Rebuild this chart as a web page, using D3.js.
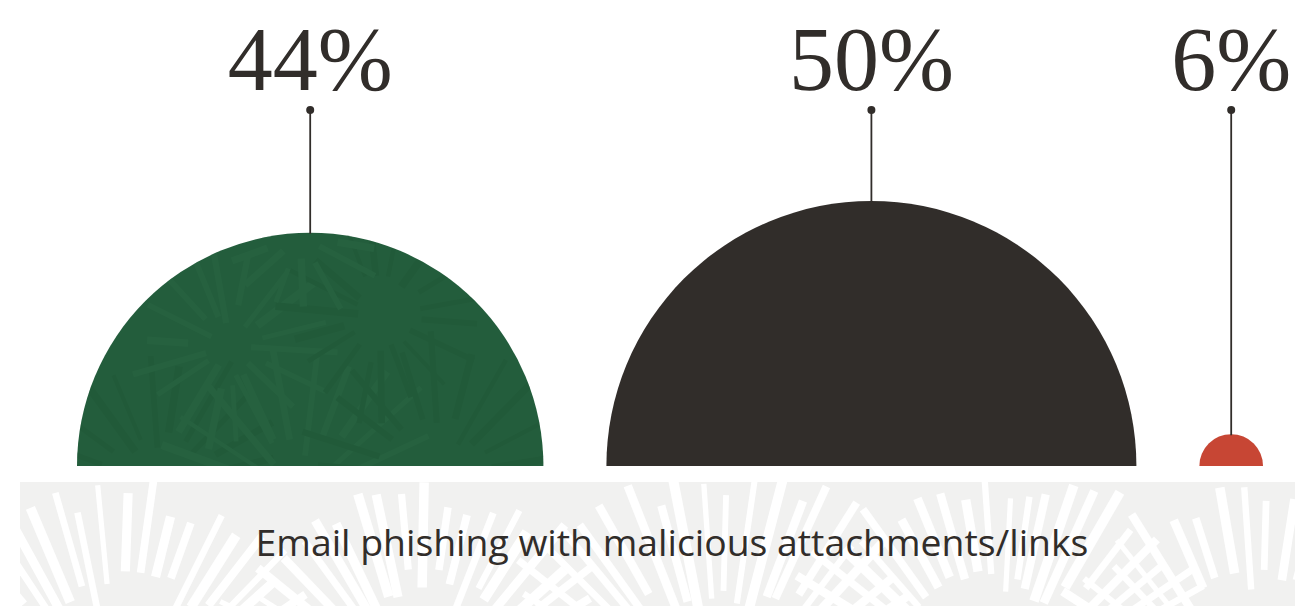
<!DOCTYPE html>
<html>
<head>
<meta charset="utf-8">
<script src="https://cdn.jsdelivr.net/npm/d3@7"></script>
<style>
  html, body { margin: 0; padding: 0; background: #ffffff; }
  svg { display: block; }
</style>
</head>
<body>
<svg id="chart" width="1295" height="606"></svg>
<script>
// Share of respondents by answer
const categories = ["Group A", "Group B", "Group C"];
const values = [44, 50, 6];
const valueLabels = ["44%", "50%", "6%"];
const colors = ["#245e3d", "#312d2a", "#c74634"];
const caption = "Email phishing with malicious attachments/links";

const W = 1295, H = 606;
const baseY = 466;
const leftStart = 77;
const gap = 63;
const dotY = 110;
const ink = "#312d2a";

const svg = d3.select("#chart");

// radius of each half-disc grows linearly with its value
const r = d3.scaleLinear().domain([0, 50]).range([0, 265]);

// lay the half-discs out left to right, each separated by a fixed gap
const centers = [];
let cursor = leftStart;
values.forEach(v => {
  centers.push(cursor + r(v));
  cursor += 2 * r(v) + gap;
});

// small deterministic generator for the decorative texture
function mulberry32(a) {
  return function() {
    a |= 0; a = a + 0x6D2B79F5 | 0;
    let t = Math.imul(a ^ a >>> 15, 1 | a);
    t = t + Math.imul(t ^ t >>> 7, 61 | t) ^ t;
    return ((t ^ t >>> 14) >>> 0) / 4294967296;
  };
}

const defs = svg.append("defs");

// ---- caption band with radiating brush-stroke texture ----
const bandTop = 482, bandLeft = 20;
defs.append("clipPath").attr("id", "bandClip")
  .append("rect").attr("x", bandLeft).attr("y", bandTop)
  .attr("width", W - bandLeft).attr("height", H - bandTop);

const band = svg.append("g").attr("clip-path", "url(#bandClip)");
band.append("rect").attr("x", bandLeft).attr("y", bandTop)
  .attr("width", W - bandLeft).attr("height", H - bandTop)
  .attr("fill", "#f1f1f0");

function burst(g, rand, cx, cy, rIn, rOut, n, a0, a1, color, wMin, wMax) {
  for (let i = 0; i < n; i++) {
    const a = a0 + (a1 - a0) * (i + rand() * 0.5) / n;
    const r0 = rIn + rand() * (rOut - rIn) * 0.3;
    const r1 = rOut - rand() * (rOut - rIn) * 0.3;
    g.append("line")
      .attr("x1", cx + Math.cos(a) * r0).attr("y1", cy + Math.sin(a) * r0)
      .attr("x2", cx + Math.cos(a) * r1).attr("y2", cy + Math.sin(a) * r1)
      .attr("stroke", color)
      .attr("stroke-width", wMin + rand() * (wMax - wMin))
      .attr("stroke-linecap", "butt");
  }
}

const bandRand = mulberry32(7);
const bandBursts = [
  [120, 720, 110, 250, 30], [420, 700, 90, 230, 28], [720, 720, 110, 260, 30],
  [1000, 700, 100, 240, 30], [1260, 720, 110, 250, 28]
];
bandBursts.forEach(b => {
  burst(band, bandRand, b[0], b[1], b[2], b[3], b[4], -Math.PI, 0, "#ffffff", 5, 10);
});

// ---- half-discs ----
const discs = svg.append("g");
values.forEach((v, i) => {
  const rr = r(v), cx = centers[i];
  const arc = d3.arc()
    .innerRadius(0).outerRadius(rr)
    .startAngle(-Math.PI / 2).endAngle(Math.PI / 2);
  defs.append("clipPath").attr("id", "disc" + i)
    .append("path").attr("d", arc()).attr("transform", `translate(${cx},${baseY})`);
  discs.append("path")
    .attr("d", arc())
    .attr("transform", `translate(${cx},${baseY})`)
    .attr("fill", colors[i]);
});

// leafy texture inside the green half-disc
const leaf = svg.append("g").attr("clip-path", "url(#disc0)").attr("opacity", 0.3);
const leafRand = mulberry32(21);
const lc = centers[0];
const leafBursts = [
  [lc - 150, baseY + 20, 30, 150, 22], [lc - 10, baseY + 30, 40, 170, 24],
  [lc + 130, baseY + 10, 30, 150, 22], [lc - 80, baseY - 120, 20, 110, 18],
  [lc + 70, baseY - 150, 20, 110, 18], [lc - 10, baseY - 230, 20, 90, 14]
];
leafBursts.forEach((b, k) => {
  burst(leaf, leafRand, b[0], b[1], b[2], b[3], b[4], -Math.PI, Math.PI,
    k % 2 ? "#2d6c48" : "#1d5434", 4, 8);
});

// ---- leader lines, dots and value labels ----
const tops = values.map(v => baseY - r(v));
svg.append("g").selectAll("line")
  .data(values).join("line")
  .attr("x1", (d, i) => centers[i]).attr("x2", (d, i) => centers[i])
  .attr("y1", dotY).attr("y2", (d, i) => tops[i] + 1)
  .attr("stroke", ink).attr("stroke-width", 1.8);

svg.append("g").selectAll("circle")
  .data(values).join("circle")
  .attr("cx", (d, i) => centers[i]).attr("cy", dotY).attr("r", 4)
  .attr("fill", ink);

svg.append("g").selectAll("text")
  .data(valueLabels).join("text")
  .attr("x", (d, i) => centers[i]).attr("y", 90)
  .attr("text-anchor", "middle")
  .attr("font-family", "'Liberation Serif', 'DejaVu Serif', serif")
  .attr("font-size", 90)
  .attr("fill", ink)
  .text(d => d);

// ---- caption ----
const cap = svg.append("text")
  .attr("x", 672).attr("y", 556)
  .attr("text-anchor", "middle")
  .attr("font-family", "'Open Sans', 'Noto Sans', sans-serif")
  .attr("font-size", 34)
  .attr("fill", ink)
  .text(caption);
const capW = cap.node().getComputedTextLength();
cap.attr("font-size", 34 * 833 / capW);
</script>
</body>
</html>
